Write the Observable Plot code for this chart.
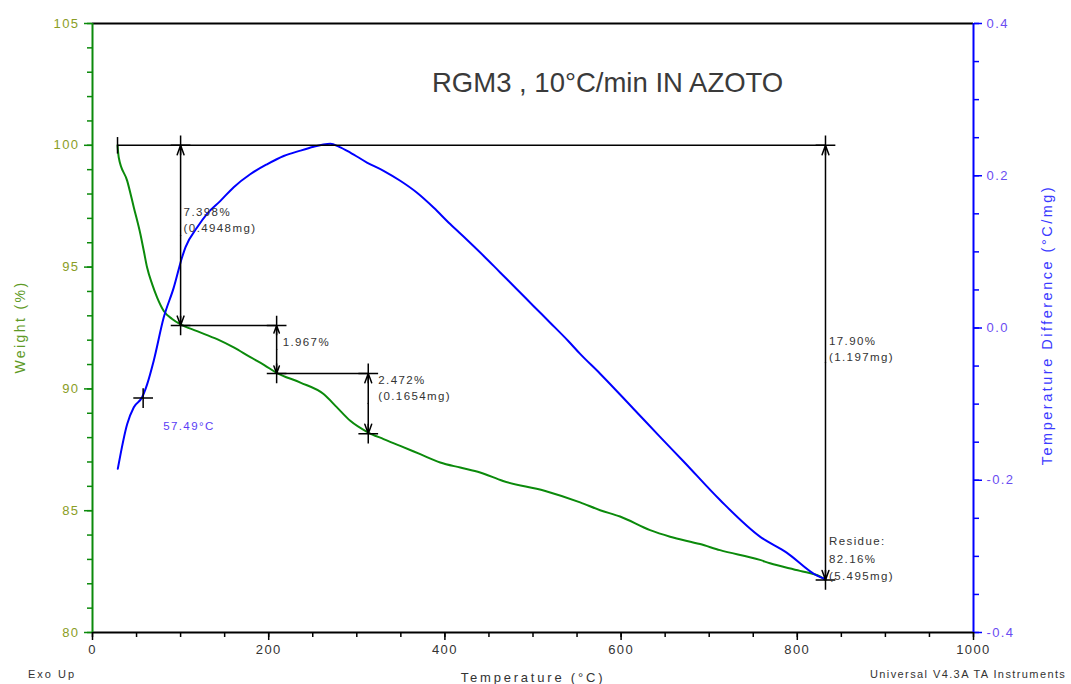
<!DOCTYPE html>
<html>
<head>
<meta charset="utf-8">
<script src="https://cdn.jsdelivr.net/npm/d3@7"></script>
<script src="https://cdn.jsdelivr.net/npm/@observablehq/plot@0.6"></script>
<style>
  html, body { margin: 0; padding: 0; background: #fff; }
  #chart { position: relative; width: 1071px; height: 684px; font-family: "Liberation Sans", Arial, sans-serif; }
  #chart svg text { letter-spacing: 1.4px; }
  .lbl { position: absolute; white-space: nowrap; line-height: 1; }
</style>
</head>
<body>
<div id="chart"></div>
<script>
// TGA weight curve: temperature (°C) and weight (%)
const weightT = [28.4, 29.8, 39.4, 46.9, 54.4, 58.2, 62.0, 67.7, 73.4, 80.9, 90.4, 100.0,
  118.7, 141.4, 160.3, 179.2, 195.0, 209.0, 236.0, 262.3, 277.5, 292.6, 311.5, 330.4,
  349.3, 372.0, 394.7, 417.4, 440.0, 466.0, 513.0, 553.5, 576.2, 598.8, 632.9, 655.6,
  689.6, 712.3, 757.6, 769.0, 803.0, 825.7, 832.0];
const weightPct = [100.0, 99.5, 98.54, 97.45, 96.35, 95.67, 94.98, 94.3, 93.75, 93.2, 92.87, 92.65,
  92.37, 92.04, 91.7, 91.3, 90.98, 90.66, 90.26, 89.79, 89.24, 88.69, 88.24, 87.94,
  87.66, 87.32, 86.98, 86.77, 86.57, 86.22, 85.82, 85.34, 85.02, 84.76, 84.2, 83.93,
  83.63, 83.38, 82.98, 82.84, 82.53, 82.3, 82.16];

// DTA curve: temperature (°C) and temperature difference (°C/mg)
const dtaT = [28.7, 39.4, 46.9, 56.3, 62.0, 69.5, 80.9, 92.2, 101.7, 105.5, 118.7, 130.0,
  145.2, 160.3, 179.0, 198.0, 217.0, 236.0, 251.0, 262.0, 270.0, 280.0, 292.6, 311.5, 330.4,
  349.3, 368.0, 387.1, 406.0, 425.0, 443.8, 462.7, 481.7, 500.5, 519.5, 540.0, 553.5,
  576.2, 614.0, 644.2, 670.7, 712.3, 757.6, 787.9, 821.9, 832.0];
const dtaDiff = [-0.185, -0.126, -0.104, -0.091, -0.074, -0.043, 0.014, 0.053, 0.093, 0.106, 0.132, 0.150,
  0.167, 0.185, 0.202, 0.215, 0.226, 0.233, 0.238, 0.241, 0.242, 0.238, 0.2305, 0.2174, 0.2065,
  0.1934, 0.178, 0.1583, 0.1365, 0.116, 0.095, 0.073, 0.051, 0.029, 0.007, -0.017, -0.034,
  -0.060, -0.106, -0.143, -0.175, -0.226, -0.274, -0.295, -0.325, -0.330];

// Weight-loss analysis
const analysisStartT = 28.4;
const stepT = [100, 209, 313];
const stepLossPct = [7.398, 1.967, 2.472];
const stepLossMg = [0.4948, null, 0.1654];
const residueT = 832;
const residuePct = 82.16;
const residueMg = 5.495;
const totalLossPct = 17.90;
const totalLossMg = 1.197;
const onsetT = 57.49;
const onsetDiff = -0.092;

// Axis ticks
const xMajor = [0, 200, 400, 600, 800, 1000];
const xMinor = d3.range(0, 1001, 50);
const wMajor = [80, 85, 90, 95, 100, 105];
const wMinor = d3.range(80, 106, 1);
const dtMajor = [-0.4, -0.2, 0.0, 0.2, 0.4];
const dtMinor = d3.range(-8, 9).map(k => k * 0.05);

const W_DOMAIN = [80, 105];
const DT_DOMAIN = [-0.4, 0.4];
// the DTA signal shares the plot with the weight curve: map it onto the weight scale
const toW = v => W_DOMAIN[0] + (v - DT_DOMAIN[0]) / (DT_DOMAIN[1] - DT_DOMAIN[0]) * (W_DOMAIN[1] - W_DOMAIN[0]);
const fromW = w => DT_DOMAIN[0] + (w - W_DOMAIN[0]) / (W_DOMAIN[1] - W_DOMAIN[0]) * (DT_DOMAIN[1] - DT_DOMAIN[0]);

const GREEN = "#0b8a0b";
const BLUE = "#0000ff";
const INK = "#333";

const weight = weightT.map((t, i) => ({t, w: weightPct[i]}));
const dta = dtaT.map((t, i) => ({t, w: toW(dtaDiff[i])}));

const levels = [100];
stepLossPct.forEach(p => levels.push(levels[levels.length - 1] - p));

const hLines = [
  {x1: analysisStartT, x2: residueT, y: 100},
  {x1: stepT[0], x2: stepT[1], y: levels[1]},
  {x1: stepT[1], x2: stepT[2], y: levels[2]}
];
const vSpans = stepT.map((t, i) => ({x: t, y1: levels[i], y2: levels[i + 1]}))
  .concat([{x: residueT, y1: 100, y2: residuePct}]);
// each span is drawn as two arrows from its middle out to both ends
const halfArrows = vSpans.flatMap(s => {
  const m = (s.y1 + s.y2) / 2;
  return [{x: s.x, from: m, to: s.y1}, {x: s.x, from: m, to: s.y2}];
});
const crosses = [
  {x: stepT[0], y: 100}, {x: stepT[0], y: levels[1]},
  {x: stepT[1], y: levels[1]}, {x: stepT[1], y: levels[2]},
  {x: stepT[2], y: levels[2]}, {x: stepT[2], y: levels[3]},
  {x: residueT, y: 100}, {x: residueT, y: residuePct}
];
// a plain vertical stroke marks where the analysis begins
const vbar = {draw(ctx, size) { const r = Math.sqrt(size / Math.PI) * 0.75; ctx.moveTo(0, -r); ctx.lineTo(0, r); }};

const pctLabel = (p, mg) => `${p.toFixed(3)}%` + (mg != null ? `\n(${mg.toFixed(4)}mg)` : "");
const dtFmt = w => { const v = fromW(w); return (Math.abs(v) < 1e-9 ? 0 : v).toFixed(1); };

const annText = {fontSize: 11.5, fill: INK, textAnchor: "start", lineAnchor: "top", lineHeight: 1.45};
const crossStyle = {symbol: "plus", r: 6.4, stroke: "#000", strokeWidth: 1.5};

const chart = Plot.plot({
  width: 1071, height: 684,
  marginLeft: 92, marginRight: 98, marginTop: 23, marginBottom: 52,
  x: {domain: [0, 1000]},
  y: {domain: W_DOMAIN},
  style: {fontFamily: "'Liberation Sans', Arial, sans-serif", fontSize: "13px", background: "#fff", overflow: "visible"},
  marks: [
    // left (weight) axis
    Plot.axisY(wMinor, {anchor: "left", tickSize: 5, tickFormat: () => "", stroke: GREEN, strokeWidth: 1.5, label: null}),
    Plot.axisY(wMajor, {anchor: "left", tickSize: 8, tickPadding: 5, tickFormat: d => String(d), stroke: GREEN, strokeWidth: 1.5, fill: "#8a9d25", fontSize: 13, label: null}),
    // right (temperature difference) axis
    Plot.axisY(dtMinor.map(toW), {anchor: "right", tickSize: 5, tickFormat: () => "", stroke: BLUE, strokeWidth: 1.5, label: null}),
    Plot.axisY(dtMajor.map(toW), {anchor: "right", tickSize: 8, tickPadding: 5, tickFormat: dtFmt, stroke: BLUE, strokeWidth: 1.5, fill: "#6a4cf2", fontSize: 13, label: null}),
    // temperature axis
    Plot.axisX(xMinor, {anchor: "bottom", tickSize: 5, tickFormat: () => "", stroke: "#000", strokeWidth: 1.5, label: null}),
    Plot.axisX(xMajor, {anchor: "bottom", tickSize: 8, tickPadding: 4, tickFormat: d => String(d), stroke: "#000", strokeWidth: 1.5, fill: INK, fontSize: 13, label: null}),
    // frame
    Plot.ruleY([W_DOMAIN[1]], {stroke: "#000", strokeWidth: 2}),
    Plot.ruleY([W_DOMAIN[0]], {stroke: "#000", strokeWidth: 2}),
    Plot.ruleX([0], {stroke: GREEN, strokeWidth: 2}),
    Plot.ruleX([1000], {stroke: BLUE, strokeWidth: 2}),
    // curves
    Plot.line(weight, {x: "t", y: "w", stroke: GREEN, strokeWidth: 2, curve: "monotone-x"}),
    Plot.line(dta, {x: "t", y: "w", stroke: BLUE, strokeWidth: 2, curve: "monotone-x"}),
    // weight-loss construction lines
    Plot.link(hLines, {x1: "x1", x2: "x2", y1: "y", y2: "y", stroke: "#000", strokeWidth: 1.5}),
    Plot.arrow(halfArrows, {x1: "x", x2: "x", y1: "from", y2: "to", stroke: "#000", strokeWidth: 1.5, headLength: 10, headAngle: 40}),
    Plot.dot(crosses, {x: "x", y: "y", ...crossStyle}),
    Plot.dot([{x: analysisStartT, y: 100}], {x: "x", y: "y", symbol: vbar, r: 11, stroke: "#000", strokeWidth: 1.5}),
    Plot.dot([{x: onsetT, y: toW(onsetDiff)}], {x: "x", y: "y", ...crossStyle}),
    // labels
    Plot.text([{x: stepT[0], y: 100}], {x: "x", y: "y", text: () => pctLabel(stepLossPct[0], stepLossMg[0]), dx: 3, dy: 58.5, ...annText}),
    Plot.text([{x: stepT[1], y: levels[1]}], {x: "x", y: "y", text: () => pctLabel(stepLossPct[1], stepLossMg[1]), dx: 6, dy: 8.5, ...annText}),
    Plot.text([{x: stepT[2], y: levels[2]}], {x: "x", y: "y", text: () => pctLabel(stepLossPct[2], stepLossMg[2]), dx: 10, dy: -1.5, ...annText}),
    Plot.text([{x: residueT, y: 100}], {x: "x", y: "y", text: () => `${totalLossPct.toFixed(2)}%\n(${totalLossMg.toFixed(3)}mg)`, dx: 3.5, dy: 187.5, ...annText}),
    Plot.text([{x: residueT, y: residuePct}], {x: "x", y: "y", text: () => `Residue:\n${residuePct.toFixed(2)}%\n(${residueMg.toFixed(3)}mg)`, dx: 3.5, dy: -47, ...annText, lineHeight: 1.52}),
    Plot.text([{x: onsetT, y: toW(onsetDiff)}], {x: "x", y: "y", text: () => `${onsetT.toFixed(2)}°C`, dx: 20, dy: 20, ...annText, fill: "#5a3cf5"})
  ]
});

const root = document.getElementById("chart");
root.appendChild(chart);

function addLabel(text, css) {
  const d = document.createElement("div");
  d.className = "lbl";
  d.textContent = text;
  Object.assign(d.style, css);
  root.appendChild(d);
}
addLabel("RGM3 , 10°C/min IN AZOTO", {left: "432px", top: "69px", fontSize: "27.5px", color: "#3a3a3a"});
addLabel("Weight (%)", {left: "20px", top: "327px", fontSize: "14px", letterSpacing: "2.4px", color: "#5e9a26", transform: "translate(-50%,-50%) rotate(-90deg)"});
addLabel("Temperature Difference (°C/mg)", {left: "1047px", top: "325px", fontSize: "14.5px", letterSpacing: "2.5px", color: "#3a3aff", transform: "translate(-50%,-50%) rotate(-90deg)"});
addLabel("Temperature (°C)", {left: "533px", top: "677px", fontSize: "13px", letterSpacing: "2.8px", color: INK, transform: "translate(-50%,-50%)"});
addLabel("Exo Up", {left: "28px", top: "669px", fontSize: "11px", letterSpacing: "2px", color: INK});
addLabel("Universal V4.3A TA Instruments", {left: "870px", top: "669px", fontSize: "11px", letterSpacing: "1.4px", color: INK});
</script>
</body>
</html>
